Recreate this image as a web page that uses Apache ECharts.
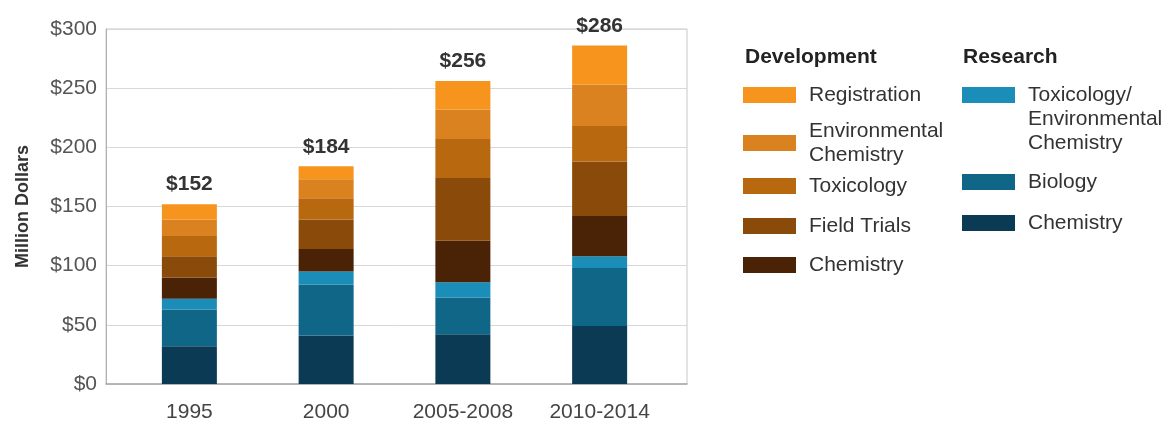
<!DOCTYPE html>
<html>
<head>
<meta charset="utf-8">
<script src="https://cdn.jsdelivr.net/npm/echarts@6/dist/echarts.min.js"></script>
<style>
html,body{margin:0;padding:0;background:#fff;}
#chart{width:1174px;height:426px;}
</style>
</head>
<body>
<div id="chart"></div>
<script>
// ---- data ----
var categories = ['1995', '2000', '2005-2008', '2010-2014'];
var totals = [152, 184, 256, 286];
var yTicks = [0, 50, 100, 150, 200, 250, 300];
// Research (bottom of stack)
var resChemistry = [32, 41, 42, 49];
var resBiology = [31, 43, 31, 49];
var resToxEnv = [9, 11, 13, 10];
// Development
var devChemistry = [18, 19, 35, 34];
var devFieldTrials = [18, 25, 53, 46];
var devToxicology = [17, 18, 33, 30];
var devEnvChemistry = [14, 16, 25, 35];
var devRegistration = [13, 11, 24, 33];

var FONT = '"Liberation Sans", Arial, Helvetica, sans-serif';

var seriesDefs = [
  {id: 'rChem', label: 'Chemistry', data: resChemistry, color: '#0B3A55'},
  {id: 'rBio', label: 'Biology', data: resBiology, color: '#0F6687'},
  {id: 'rToxEnv', label: '\n\nToxicology/\nEnvironmental\nChemistry', data: resToxEnv, color: '#1A8EB8'},
  {id: 'dChem', label: 'Chemistry', data: devChemistry, color: '#4A2206'},
  {id: 'dField', label: 'Field Trials', data: devFieldTrials, color: '#8A4A0A'},
  {id: 'dTox', label: 'Toxicology', data: devToxicology, color: '#B8690F'},
  {id: 'dEnv', label: 'Environmental\nChemistry', data: devEnvChemistry, color: '#D9821F'},
  {id: 'dReg', label: 'Registration', data: devRegistration, color: '#F7941D'}
];
var labelById = {};
seriesDefs.forEach(function (s) { labelById[s.id] = s.label; });

var series = seriesDefs.map(function (s, i) {
  var o = {
    name: s.id,
    type: 'bar',
    stack: 'total',
    xAxisIndex: 1,
    yAxisIndex: 1,
    barWidth: 55,
    data: s.data,
    itemStyle: {color: s.color},
    emphasis: {disabled: true}
  };
  if (i === seriesDefs.length - 1) {
    o.label = {
      show: true,
      position: 'top',
      distance: 9,
      formatter: function (p) { return '$' + totals[p.dataIndex]; },
      fontFamily: FONT,
      fontSize: 21,
      fontWeight: 'bold',
      color: '#333'
    };
  }
  return o;
});

// legend layout: [seriesId, left, centerY]
var legendLayout = [
  ['dReg', 743, 95],
  ['dEnv', 743, 143],
  ['dTox', 743, 186],
  ['dField', 743, 226],
  ['dChem', 743, 265],
  ['rToxEnv', 962, 95],
  ['rBio', 962, 182],
  ['rChem', 962, 223]
];
var LH = 24;
var legends = legendLayout.map(function (l) {
  var lines = labelById[l[0]].split('\n').length;
  var h = lines * LH;
  return {
    data: [l[0]],
    left: l[1],
    top: l[2] - h / 2,
    orient: 'vertical',
    padding: 0,
    itemWidth: 53,
    itemHeight: 16,
    icon: 'rect',
    selectedMode: false,
    formatter: function (name) { return labelById[name]; },
    textStyle: {
      fontFamily: FONT,
      fontSize: 21,
      color: '#333',
      lineHeight: LH,
      padding: [0, 0, 0, 8]
    }
  };
});

var chart = echarts.init(document.getElementById('chart'), null, {renderer: 'canvas'});
chart.setOption({
  animation: false,
  backgroundColor: '#fff',
  title: [
    {text: 'Development', left: 745, top: 45, padding: 0,
     textStyle: {fontFamily: FONT, fontSize: 21, fontWeight: 'bold', color: '#222', lineHeight: 24}},
    {text: 'Research', left: 963, top: 45, padding: 0,
     textStyle: {fontFamily: FONT, fontSize: 21, fontWeight: 'bold', color: '#222', lineHeight: 24}}
  ],
  legend: legends,
  grid: [
    {left: 106, top: 29, width: 581, height: 355, show: true, borderColor: '#c8c8c8', borderWidth: 1, backgroundColor: 'transparent'},
    {left: 121, top: 29, width: 547, height: 355}
  ],
  xAxis: [
    {type: 'category', gridIndex: 0, data: [''], axisLabel: {show: false}, axisTick: {show: false},
     axisLine: {show: true, lineStyle: {color: '#a8a8a8', width: 1.5}}},
    {type: 'category', gridIndex: 1, data: categories, axisTick: {show: false}, axisLine: {show: false},
     axisLabel: {fontFamily: FONT, fontSize: 21, color: '#444', margin: 18}}
  ],
  yAxis: [
    {type: 'value', gridIndex: 0, min: yTicks[0], max: yTicks[yTicks.length - 1], interval: 50,
     name: 'Million Dollars', nameLocation: 'middle', nameGap: 74,
     nameTextStyle: {fontFamily: FONT, fontSize: 18, fontWeight: 'bold', color: '#333'},
     axisLine: {show: true, lineStyle: {color: '#b0b0b0'}}, axisTick: {show: false},
     axisLabel: {fontFamily: FONT, fontSize: 21, color: '#555', margin: 9,
                 formatter: function (v) { return '$' + v; }},
     splitLine: {show: true, lineStyle: {color: '#d8d8d8', width: 1}}},
    {type: 'value', gridIndex: 1, min: yTicks[0], max: yTicks[yTicks.length - 1], interval: 50, show: false}
  ],
  series: series
});
</script>
</body>
</html>
